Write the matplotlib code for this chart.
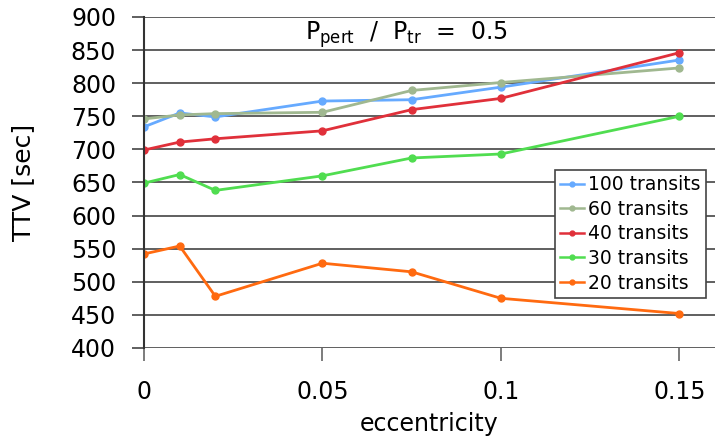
import matplotlib
matplotlib.use('Agg')
import matplotlib.pyplot as plt

plt.rcParams['font.family'] = ['DejaVu Sans']
plt.rcParams['mathtext.default'] = 'regular'

# eccentricity values and TTV [sec] per number of transits
ecc = [0, 0.01, 0.02, 0.05, 0.075, 0.1, 0.15]
ttv_100 = [734, 755, 749, 773, 775, 794, 835]
ttv_60 = [746, 752, 754, 756, 789, 801, 823]
ttv_40 = [699, 711, 716, 728, 760, 777, 846]
ttv_30 = [649, 662, 638, 660, 687, 693, 750]
ttv_20 = [542, 554, 478, 528, 515, 475, 452]

labels = ['100 transits', '60 transits', '40 transits', '30 transits', '20 transits']
colors = ['#66aaff', '#a0b890', '#e0303a', '#50dd50', '#ff6a10']
series = [ttv_100, ttv_60, ttv_40, ttv_30, ttv_20]

fig = plt.figure(figsize=(7.15, 4.41), dpi=100)
ax = fig.add_axes([0.2014, 0.211, 0.7986, 0.7505])

for vals, lab, col in zip(series, labels, colors):
    ax.plot(ecc, vals, color=col, lw=2, marker='o', ms=5, label=lab)

ax.set_xlim(0, 0.16)
ax.set_ylim(400, 900)
ax.set_xticks([0, 0.05, 0.1, 0.15])
ax.set_xticklabels(['0', '0.05', '0.1', '0.15'])
ax.set_yticks(range(400, 901, 50))
ax.grid(axis='y', color='#444444', lw=1.2)
ax.set_axisbelow(True)
for s in ['top', 'right', 'bottom']:
    ax.spines[s].set_visible(False)
ax.spines['left'].set_color('#333333')
ax.spines['left'].set_linewidth(1.5)
ax.tick_params(axis='y', length=9, width=1.2, color='#444444', labelsize=17, pad=11)
ax.tick_params(axis='x', length=9, width=1.2, color='#666666', labelsize=17, pad=14)

ax.set_xlabel('eccentricity', fontsize=17, labelpad=6)
ax.set_ylabel('TTV [sec]', fontsize=18, labelpad=26)

ax.text(0.0735, 873, r'P$_{pert}$  /  P$_{tr}$  =  0.5', fontsize=17, ha='center', va='center')

leg = ax.legend(loc='lower right', bbox_to_anchor=(0.985, 0.15), fontsize=13.5,
                frameon=True, fancybox=False, framealpha=1, edgecolor='#444444',
                handlelength=1.25, handletextpad=0.25, borderpad=0.3, labelspacing=0.3,
                borderaxespad=0, markerscale=0.7)
leg.get_frame().set_linewidth(1.2)
for h in leg.get_lines():
    h.set_linewidth(1.8)

fig.savefig('out.png', dpi=100)
